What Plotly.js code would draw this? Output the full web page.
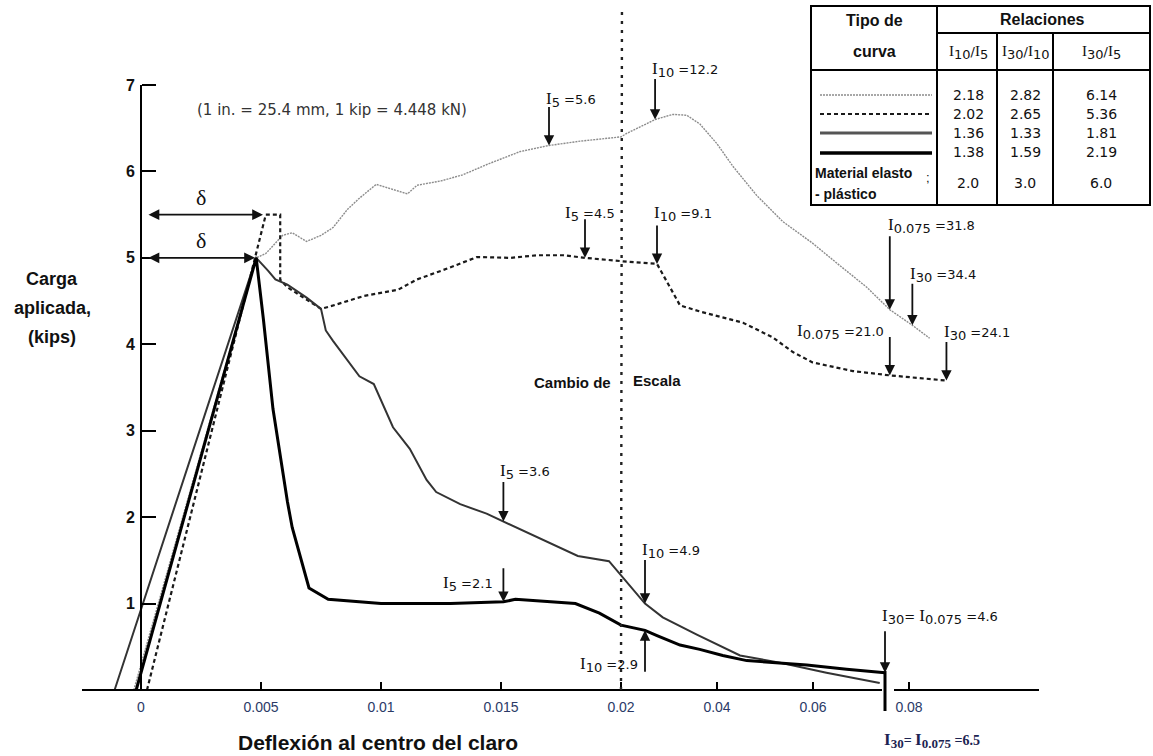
<!DOCTYPE html>
<html><head><meta charset="utf-8">
<script src="https://cdn.plot.ly/plotly-3.0.1.min.js"></script>
<style>html,body{margin:0;padding:0;background:#fff}#chart{width:1153px;height:756px}</style>
</head><body><div id="chart"></div>
<script>
// ---------------- DATA ----------------
// Deflexión al centro del claro (in.) vs Carga aplicada (kips)
const curveA_x = [-0.0003,0.0048,0.0052,0.0059,0.0063,0.0066,0.0069,0.0075,0.0080,0.0086,0.0091,0.0098,0.0104,0.0111,0.0115,0.0125,0.0134,0.0145,0.0158,0.0170,0.0183,0.0200,0.0212,0.0271,0.0308,0.0337,0.0364,0.0400,0.0433,0.0483,0.0537,0.0599,0.0656,0.0712,0.0760,0.0807,0.0843];
const curveA_y = [0,5.00,5.05,5.26,5.29,5.24,5.19,5.26,5.35,5.56,5.69,5.85,5.80,5.74,5.84,5.89,5.96,6.09,6.23,6.30,6.35,6.40,6.44,6.60,6.66,6.65,6.55,6.32,6.06,5.72,5.42,5.17,4.91,4.66,4.40,4.22,4.07];

const curveB_x = [0.00025,0.0052,0.0058,0.0058,0.0061,0.0070,0.0075,0.0079,0.0093,0.0107,0.0115,0.0128,0.0140,0.0154,0.0165,0.0176,0.0185,0.0204,0.0275,0.0302,0.0323,0.0364,0.0454,0.0516,0.0558,0.0599,0.0683,0.0760,0.0878];
const curveB_y = [0,5.50,5.50,4.75,4.66,4.50,4.41,4.44,4.56,4.63,4.75,4.88,5.01,5.00,5.03,5.03,5.00,4.96,4.93,4.66,4.45,4.38,4.25,4.08,3.91,3.79,3.69,3.64,3.58];

const curveC_x = [-0.0011,0.0048,0.0053,0.0056,0.0061,0.0069,0.0075,0.0077,0.0080,0.0091,0.0097,0.0105,0.0112,0.0119,0.0123,0.0133,0.0144,0.0151,0.0166,0.0182,0.0195,0.0204,0.0250,0.0287,0.0358,0.0448,0.0537,0.0628,0.0739];
const curveC_y = [0,5.00,4.85,4.75,4.69,4.54,4.41,4.16,4.04,3.63,3.54,3.04,2.79,2.43,2.29,2.15,2.04,1.95,1.75,1.55,1.49,1.30,1.00,0.84,0.64,0.40,0.31,0.20,0.08];

const curveD_x = [-0.0002,0.0048,0.0051,0.0055,0.0061,0.0063,0.0070,0.0078,0.0100,0.0129,0.0151,0.0156,0.0181,0.0191,0.0200,0.0250,0.0275,0.0323,0.0364,0.0412,0.0462,0.0537,0.0587,0.0670,0.0750];
const curveD_y = [0,5.00,4.29,3.25,2.18,1.88,1.18,1.05,1.00,1.00,1.02,1.05,1.00,0.89,0.75,0.69,0.63,0.52,0.47,0.40,0.34,0.31,0.29,0.24,0.20];

const xTickVals = [0,0.005,0.01,0.015,0.02,0.04,0.06,0.08];
const xTickText = ['0','0.005','0.01','0.015','0.02','0.04','0.06','0.08'];
const yTickVals = [1,2,3,4,5,6,7];

// toughness index markers (deflection, load, subscript, value)
const idxX     = [0.0170,0.0271,0.0185,0.0275,0.0760,0.0807,0.0760,0.0878,0.0151,0.0151,0.0250,0.0250,0.0750];
const idxY     = [6.30,6.60,5.00,4.93,4.40,4.22,3.64,3.58,1.95,1.02,1.00,0.69,0.20];
const idxSub   = ['5','10','5','10','0.075','30','0.075','30','5','5','10','10','30'];
const idxValue = ['5.6','12.2','4.5','9.1','31.8','34.4','21.0','24.1','3.6','2.1','4.9','2.9','4.6'];
const idxBottomValue = '6.5';

// table
const tableHeaders = [['10','5'],['30','10'],['30','5']];
const ratioI10I5  = ['2.18','2.02','1.36','1.38','2.0'];
const ratioI30I10 = ['2.82','2.65','1.33','1.59','3.0'];
const ratioI30I5  = ['6.14','5.36','1.81','2.19','6.0'];

// ---------------- SCALE (Cambio de Escala at 0.02, 5:1) ----------------
const SCALE_BREAK = 0.02, SCALE_FACTOR = 5;
const xs = x => x <= SCALE_BREAK ? x : SCALE_BREAK + (x - SCALE_BREAK) / SCALE_FACTOR;

// ---------------- GEOMETRY ----------------
const W = 1153, H = 756, PL = 82, PR = 114, PT = 60, PB = 40;
const PW = W - PL - PR, PH = H - PT - PB;
const PXU = 24000;
const U0 = (PL - 141) / PXU, U1 = U0 + PW / PXU;
const PYU = 86.43;
const Y0 = -(H - PB - 690) / PYU, Y1 = Y0 + PH / PYU;
const pX = px => (px - PL) / PW;
const pY = py => (PT + PH - py) / PH;
const uX = px => U0 + (px - PL) / PXU;

const FONT = 'Liberation Sans, Arial, sans-serif';
const MONO = 'DejaVu Sans';
const SERIF = "'Liberation Serif'";

const styleA = {color:'#8c8c8c', width:1.4, dash:'2px,1px'};
const styleB = {color:'#1a1a1a', width:2.2, dash:'4px,3px'};
const styleC = {color:'#333333', width:2.0, dash:'solid'};
const styleD = {color:'#000000', width:3.0, dash:'solid'};

function tr(xArr, yArr, st) {
  return {x: xArr.map(xs), y: yArr, type:'scatter', mode:'lines', line: st,
          hoverinfo:'skip', showlegend:false};
}
const traces = [tr(curveA_x,curveA_y,styleA), tr(curveB_x,curveB_y,styleB),
                tr(curveC_x,curveC_y,styleC), tr(curveD_x,curveD_y,styleD)];

// ---------------- ANNOTATIONS ----------------
const ann = [];
const Ih = `<span style="font-family:${SERIF};font-size:17px">I</span>`;
const sub = s => `<sub><span style="font-size:13px">${s}</span></sub>`;
function lab(i) {
  if (i === 12) return `${Ih}${sub('30')}= ${Ih}${sub('0.075')} =${idxValue[i]}`;
  return `${Ih}${sub(idxSub[i])} =${idxValue[i]}`;
}
const arrLen  = [40,42,40,40,75,43,40,40,41,35,45,-43,43];
const labAnch = ['left','left','left','left','left','left','right','left','left','right','left','right','left'];
const labXs   = [-5,-5,-22,-5,-4,-4,-4,-4,-5,-8,-5,-5,-5];
const labYs   = [46,50,44,50,84,51,44,48,50,18,53,-34,56];
for (let i = 0; i < idxX.length; i++) {
  ann.push({x: xs(idxX[i]), y: idxY[i], xref:'x', yref:'y', text:'', showarrow:true,
    ax:0, ay:-arrLen[i], arrowhead:2, arrowsize:1.15, arrowwidth:1.8, arrowcolor:'#111', standoff:0});
  ann.push({x: xs(idxX[i]), y: idxY[i], xref:'x', yref:'y', text: lab(i), showarrow:false,
    xanchor: labAnch[i], yanchor:'middle', xshift: labXs[i], yshift: labYs[i],
    font:{family:MONO, size:13, color:'#111'}});
}
ann.push({x:pX(882), y:pY(740), xref:'paper', yref:'paper', xanchor:'left', yanchor:'middle', showarrow:false,
  text:`<b>${Ih}${sub('30')}= ${Ih}${sub('0.075')} =${idxBottomValue}</b>`,
  font:{family:SERIF, size:14, color:'#1c2452'}});

// delta arrows
[[5.5, 263],[5.0, 255]].forEach(([yy, tipPx]) => {
  ann.push({x: uX(tipPx), y: yy, xref:'x', yref:'y', axref:'x', ayref:'y', ax: uX(147), ay: yy,
    text:'', showarrow:true, arrowhead:2, startarrowhead:2, arrowside:'end+start',
    arrowsize:1.2, startarrowsize:1.2, arrowwidth:1.8, arrowcolor:'#111', standoff:0, startstandoff:0});
  ann.push({x: uX(201), y: yy, xref:'x', yref:'y', yshift:17, xanchor:'center', yanchor:'middle',
    text:'δ', showarrow:false, font:{family:SERIF, size:22, color:'#111'}});
});

// texts
const txt = (px, py, t, size, opts={}) => ann.push(Object.assign({x:pX(px), y:pY(py), xref:'paper', yref:'paper',
  xanchor:'center', yanchor:'middle', text:t, showarrow:false, font:{family:FONT, size:size, color:'#111'}}, opts));
txt(195,110,'(1 in. = 25.4 mm, 1 kip = 4.448 kN)',15,{xanchor:'left', font:{family:MONO,size:15,color:'#333'}});
txt(52,279,'<b>Carga</b>',18);
txt(52,308,'<b>aplicada,</b>',18);
txt(52,337,'<b>(kips)</b>',18);
txt(378,742,'<b>Deflexión al centro del claro</b>',21);
txt(613,382,'<b>Cambio de</b>',15,{xanchor:'right'});
txt(631,380,'<b>Escala</b>',15,{xanchor:'left'});

// table texts
txt(874,21,'<b>Tipo de</b>',16);
txt(874,52,'<b>curva</b>',16);
txt(1042,19,'<b>Relaciones</b>',16);
const colC = [968,1025,1101];
const Ii = `<span style="font-family:${SERIF};font-size:15px">I</span>`;
tableHeaders.forEach((h,j)=> txt(colC[j],53,`${Ii}${sub(h[0])}/${Ii}${sub(h[1])}`,13,{font:{family:MONO,size:13,color:'#111'}}));
const rowY = [95,114,133,152,183];
[ratioI10I5, ratioI30I10, ratioI30I5].forEach((col,j)=> col.forEach((v,r)=>
  txt(colC[j], rowY[r], v, 14, {font:{family:MONO,size:14,color:'#111'}})));
txt(813,173,'<b>Material elasto</b>',14,{xanchor:'left'});
txt(813,194,'<b>- plástico</b>',14,{xanchor:'left'});
txt(928,177,';',13);

// ---------------- SHAPES ----------------
const shapes = [];
const L = (x0,y0,x1,y1,w,extra={}) => shapes.push(Object.assign({type:'line', xref:'paper', yref:'paper',
  x0:pX(x0), y0:pY(y0), x1:pX(x1), y1:pY(y1), line:{color:'#000', width:w}}, extra));
shapes.push({type:'line', xref:'x', yref:'y', x0:0, x1:0, y0:0, y1:7, line:{color:'#000', width:2}});
shapes.push({type:'line', xref:'x', yref:'paper', x0:xs(0.02), x1:xs(0.0202), y0:pY(690), y1:pY(8),
  line:{color:'#222', width:2.4, dash:'3px,6px'}});
shapes.push({type:'line', xref:'paper', yref:'paper', x0:pX(882), x1:pX(894), y0:pY(690), y1:pY(690), line:{color:'#fff', width:4}});
shapes.push({type:'line', xref:'x', yref:'paper', x0:xs(0.075), x1:xs(0.075), y0:pY(711), y1:pY(671), line:{color:'#000', width:3}});
// table
shapes.push({type:'rect', xref:'paper', yref:'paper', x0:pX(811), x1:pX(1150), y0:pY(205), y1:pY(6), line:{color:'#000', width:2}});
L(937,6,937,205,2);
L(937,33,1150,33,2);
L(811,70,1150,70,2);
L(997,33,997,205,2);
L(1053,33,1053,205,2);
[[95,styleA],[114,styleB],[133,Object.assign({},styleC,{width:3,color:'#555'})],[153,Object.assign({},styleD,{width:3.5})]].forEach(([yy,st])=>
  L(820,yy,932,yy,st.width,{line:{color:st.color, width:st.width, dash:st.dash}}));

const layout = {
  width:W, height:H, margin:{l:PL, r:PR, t:PT, b:PB}, paper_bgcolor:'#fff', plot_bgcolor:'rgba(0,0,0,0)',
  xaxis:{range:[U0,U1], anchor:'free', position:pY(690), showline:true, linecolor:'#000', linewidth:2,
    ticks:'inside', ticklen:7, tickwidth:2, tickcolor:'#000', ticklabelstandoff:4,
    tickvals:xTickVals.map(xs), ticktext:xTickText, showgrid:false, zeroline:false,
    tickfont:{family:FONT, size:14, color:'#2b3a67'}},
  yaxis:{range:[Y0,Y1], anchor:'free', position:pX(141), showline:false,
    ticks:'inside', ticklen:14, tickwidth:2, tickcolor:'#000', tickvals:yTickVals, ticklabelstandoff:6,
    showgrid:false, zeroline:false, tickfont:{family:FONT, size:16, color:'#111', weight:'bold'}},
  shapes: shapes, annotations: ann, showlegend:false
};
Plotly.newPlot('chart', traces, layout, {staticPlot:true});
</script></body></html>
